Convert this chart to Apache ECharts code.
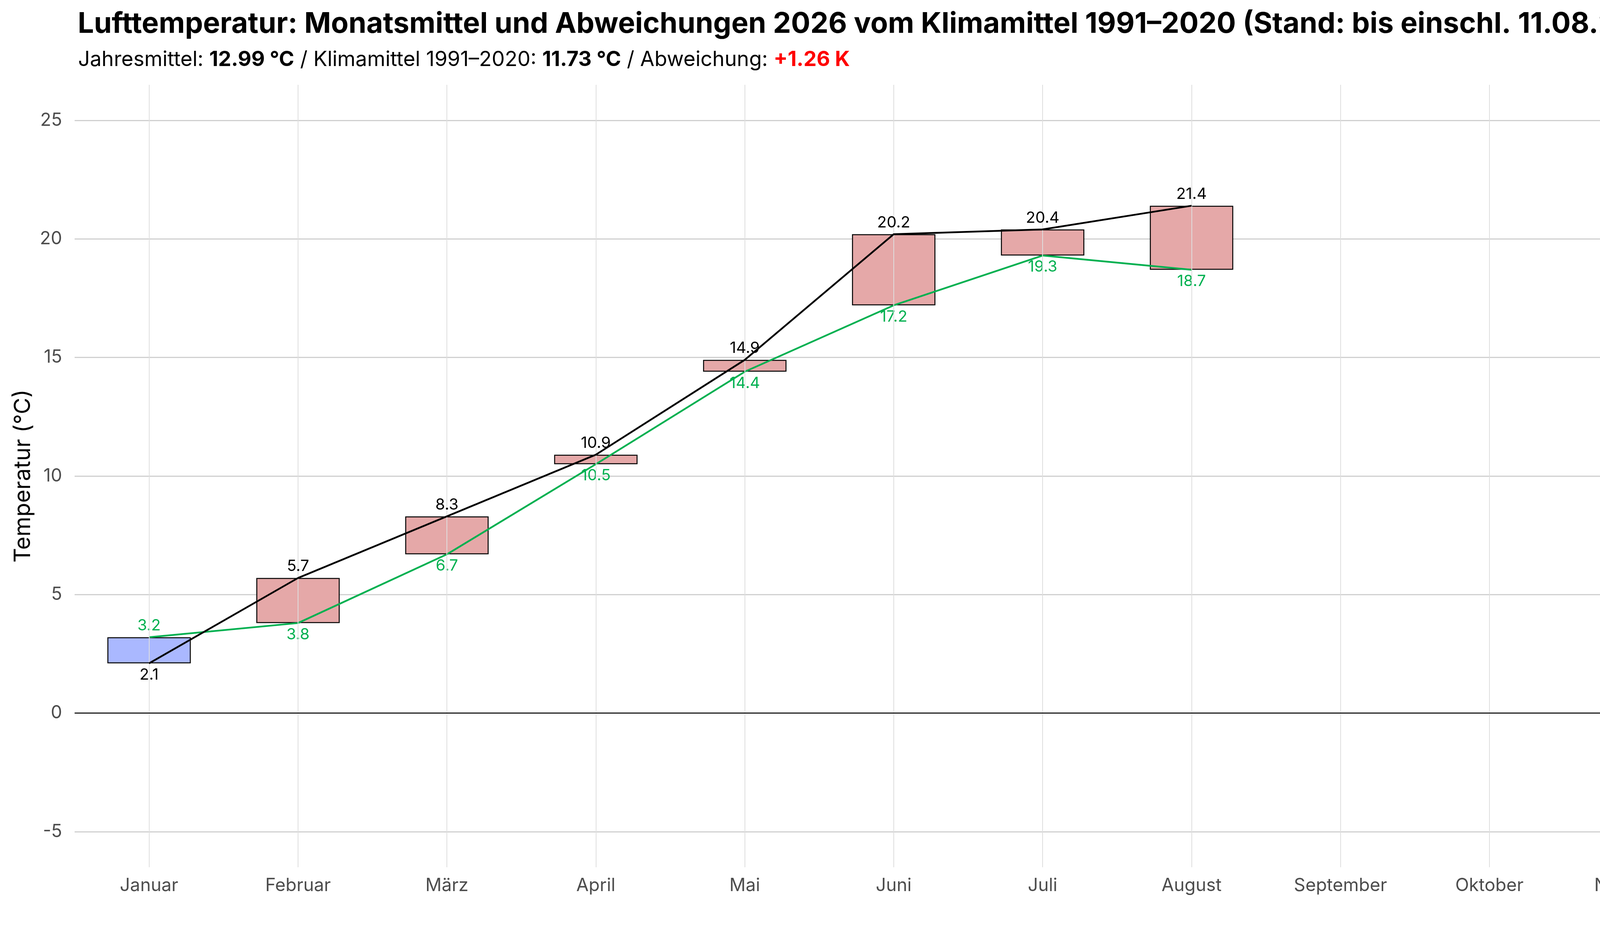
<!DOCTYPE html>
<html>
<head>
<meta charset="utf-8">
<script src="https://cdn.jsdelivr.net/npm/echarts@6/dist/echarts.min.js"></script>
<style>
html, body { margin: 0; padding: 0; background: #fff; }
#chart { width: 4800px; height: 2400px; }
</style>
</head>
<body>
<div id="chart"></div>
<script>
// Monate
var months = ['Januar', 'Februar', 'März', 'April', 'Mai', 'Juni', 'Juli', 'August', 'September', 'Oktober', 'November', 'Dezember'];
// Monatsmittel 2026 (bis August)
var actual = [2.1, 5.7, 8.3, 10.9, 14.9, 20.2, 20.4, 21.4];
// Klimamittel 1991-2020
var climate = [3.2, 3.8, 6.7, 10.5, 14.4, 17.2, 19.3, 18.7];
// Achsenbeschriftung
var yTicks = [-5, 0, 5, 10, 15, 20, 25];

var FONT = "Inter, 'Noto Sans', sans-serif";
var GREEN = '#00b050';
var TITLE = 'Lufttemperatur: Monatsmittel und Abweichungen 2026 vom Klimamittel 1991–2020 (Stand: bis einschl. 11.08.2026)';
var SUB = [
    ['n', 'Jahresmittel: '], ['b', '12.99 °C'], ['n', ' / Klimamittel 1991–2020: '],
    ['b', '11.73 °C'], ['n', ' / Abweichung: '], ['r', '+1.26 K']
];

// Schriftgröße so wählen, dass die Textbreite zur Vorlage passt
var ctx = document.createElement('canvas').getContext('2d');
function textWidth(parts, size) {
    var w = 0;
    parts.forEach(function (p) {
        ctx.font = (p[0] === 'n' ? 'normal ' : 'bold ') + size + 'px ' + FONT;
        w += ctx.measureText(p[1]).width;
    });
    return w;
}
var titleSize = Math.min(80, Math.max(60, 72 * 4110 / textWidth([['b', TITLE]], 72)));
var subSize = Math.min(60, Math.max(44, 52 * 1976 / textWidth(SUB, 52)));

// Balken: von min(Ist, Klima) bis max(Ist, Klima)
var barBase = [], barDiff = [];
for (var i = 0; i < actual.length; i++) {
    var lo = Math.min(actual[i], climate[i]);
    var d = Math.abs(actual[i] - climate[i]);
    barBase.push(lo);
    barDiff.push({
        value: d,
        itemStyle: { color: actual[i] < climate[i] ? '#aab8ff' : '#e5a8a8' }
    });
}
// Beschriftung oberhalb für den höheren Wert, unterhalb für den niedrigeren
function labelled(values, other) {
    return values.map(function (v, i) {
        return {
            value: v,
            label: { position: v >= other[i] ? 'top' : 'bottom' }
        };
    });
}

var myChart = echarts.init(document.getElementById('chart'));
var option = {
    backgroundColor: '#ffffff',
    animation: false,
    title: [{
        text: TITLE,
        left: 194,
        top: 20,
        textStyle: { fontFamily: FONT, fontSize: titleSize, fontWeight: 'bold', color: '#000' }
    }, {
        text: SUB.map(function (p) { return '{' + p[0] + '|' + p[1] + '}'; }).join(''),
        left: 195,
        top: 122,
        textStyle: {
            rich: {
                n: { fontFamily: FONT, fontSize: subSize, fontWeight: 'normal', color: '#000' },
                b: { fontFamily: FONT, fontSize: subSize, fontWeight: 'bold', color: '#000' },
                r: { fontFamily: FONT, fontSize: subSize, fontWeight: 'bold', color: '#ff0000' }
            }
        }
    }],
    grid: { left: 191, right: 34, top: 217, bottom: 181, containLabel: false },
    xAxis: {
        type: 'category',
        data: months,
        boundaryGap: true,
        axisLine: { show: false },
        axisTick: { show: false },
        splitLine: { show: false },
        axisLabel: { fontFamily: FONT, fontSize: 46, color: '#4d4d4d', margin: 24, interval: 0 }
    },
    yAxis: {
        type: 'value',
        min: -6.5,
        max: 26.5,
        name: 'Temperatur (°C)',
        nameLocation: 'middle',
        nameGap: 102,
        nameTextStyle: { fontFamily: FONT, fontSize: 58, color: '#000' },
        axisLine: { show: false },
        axisTick: { show: false, customValues: yTicks },
        axisLabel: { fontFamily: FONT, fontSize: 46, color: '#4d4d4d', margin: 32, customValues: yTicks },
        splitLine: { show: true, lineStyle: { color: '#d0d0d0', width: 3 } }
    },
    series: [
        {
            name: 'base',
            type: 'bar',
            stack: 'abw',
            barWidth: '56%',
            z: 1,
            itemStyle: { color: 'rgba(0,0,0,0)' },
            data: barBase,
            markLine: {
                silent: true,
                symbol: 'none',
                label: { show: false },
                lineStyle: { color: '#dedede', width: 2, type: 'solid' },
                data: months.map(function (m) { return { xAxis: m }; })
            }
        },
        {
            name: 'Abweichung',
            type: 'bar',
            stack: 'abw',
            barWidth: '56%',
            z: 3,
            itemStyle: { borderColor: '#000', borderWidth: 2.5 },
            data: barDiff
        },
        {
            name: 'Klimamittel',
            type: 'line',
            z: 4,
            symbol: 'circle',
            symbolSize: 1,
            itemStyle: { color: GREEN },
            lineStyle: { color: GREEN, width: 4.5 },
            label: {
                show: true,
                distance: 9,
                fontFamily: FONT,
                fontSize: 40,
                color: GREEN,
                formatter: function (p) { return p.value.toFixed(1); }
            },
            data: labelled(climate, actual)
        },
        {
            name: 'Monatsmittel',
            type: 'line',
            z: 5,
            symbol: 'circle',
            symbolSize: 1,
            itemStyle: { color: '#000' },
            lineStyle: { color: '#000', width: 4.5 },
            label: {
                show: true,
                distance: 9,
                fontFamily: FONT,
                fontSize: 40,
                color: '#000',
                formatter: function (p) { return p.value.toFixed(1); }
            },
            data: labelled(actual, climate),
            markLine: {
                silent: true,
                symbol: 'none',
                label: { show: false },
                lineStyle: { color: '#000', width: 2.5, type: 'solid' },
                data: [{ yAxis: 0 }]
            }
        }
    ]
};
myChart.setOption(option);
</script>
</body>
</html>
